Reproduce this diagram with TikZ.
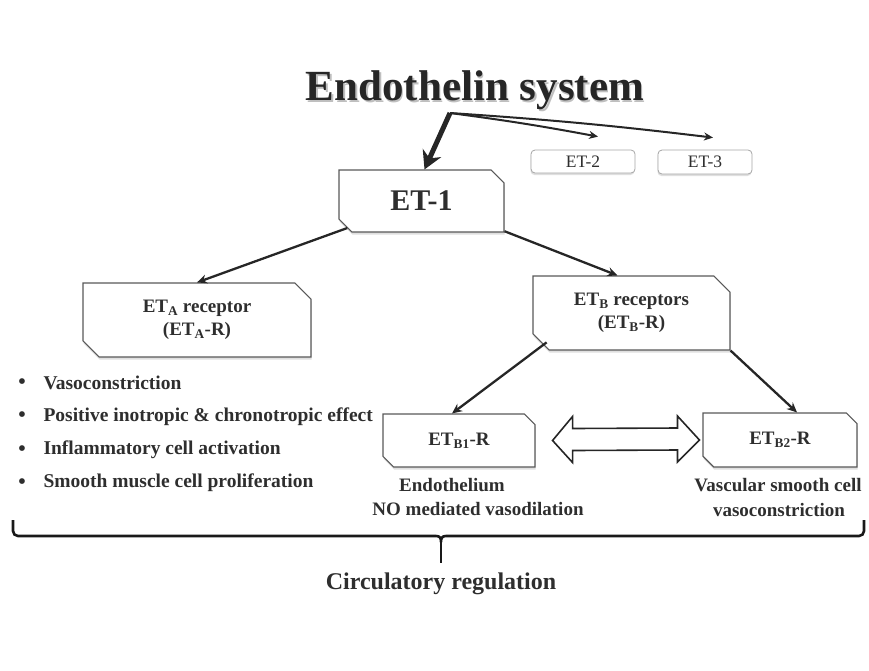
\documentclass[tikz,border=0pt]{standalone}
\usepackage{fontspec}
\setmainfont{Liberation Serif}
\usetikzlibrary{arrows.meta, shapes.misc, shadows, calc, positioning}
\newcommand{\fsz}[1]{\fontsize{#1}{1.2\dimexpr #1pt\relax}\selectfont}

\begin{document}
\begin{tikzpicture}[x=1pt, y=-1pt, >=Stealth, text=black!82]
  \tikzset{
    cutbox/.style={chamfered rectangle,
      chamfered rectangle corners={north east, south west},
      chamfered rectangle xsep=13pt,
      draw=black!65, line width=1.1pt, fill=white, inner sep=0pt,
      align=center, font=\bfseries\fsz{19},
      drop shadow={shadow xshift=0.5pt, shadow yshift=-2.5pt, fill=black!25}},
    tabbox/.style={draw=black!35, line width=0.8pt, fill=white,
      rounded corners=4pt, inner sep=0pt, font=\fsz{17.5},
      drop shadow={shadow xshift=-0.5pt, shadow yshift=-2pt, fill=black!25}},
    link/.style={->, line width=2.3pt, black!85,
      -{Stealth[length=10pt, width=9pt]}},
    effect/.style={anchor=west, font=\bfseries\fsz{19.5}},
  }
  \useasboundingbox (0,0) rectangle (869,670);

  % title with its soft shadow
  \node[font=\bfseries\fsz{43}, text=black!25] (titleshade) at (476.5,92) {Endothelin system};
  \node[font=\bfseries\fsz{43}, text=black!85] (title) at (475,90) {Endothelin system};
  \coordinate (src) at (450,113);

  % isoforms
  \node[cutbox, minimum width=165, minimum height=62, font=\bfseries\fsz{30}] (ET1) at (421.5,201) {ET-1};
  \node[tabbox, minimum width=104, minimum height=23] (ET2) at (583,161.5) {ET-2};
  \node[tabbox, minimum width=94, minimum height=24] (ET3) at (705,162) {ET-3};

  % receptors
  \node[cutbox, minimum width=228, minimum height=74] (ETA) at (197,320)
    {ET\textsubscript{A} receptor\\(ET\textsubscript{A}-R)};
  \node[cutbox, minimum width=197, minimum height=74] (ETB) at (631.5,313)
    {ET\textsubscript{B} receptors\\(ET\textsubscript{B}-R)};
  \node[cutbox, minimum width=152, minimum height=53] (ETB1) at (459,440.5)
    {ET\textsubscript{B1}-R};
  \node[cutbox, minimum width=154, minimum height=54] (ETB2) at (780,440)
    {ET\textsubscript{B2}-R};

  % arrows from the title
  \draw[-{Stealth[length=18pt, width=20pt]}, line width=5pt, black!85]
    (src) -- ([xshift=3pt]ET1.north);
  \draw[link, -{Stealth[length=9pt, width=8pt]}, line width=2pt]
    (src) to[bend left=1.5] ([xshift=15pt, yshift=13pt]ET2.north);
  \draw[link, -{Stealth[length=9pt, width=8pt]}, line width=2pt]
    (src) to[bend left=1.5] ([xshift=8pt, yshift=12pt]ET3.north);

  % cascade
  \draw[link] (ET1.200) -- (ETA.north);
  \draw[link] (ET1.-20) -- ([xshift=-14pt]ETB.north);
  \draw[link] ([xshift=6pt]ETB.south west) -- ([xshift=-7pt]ETB1.north);
  \draw[link] (ETB.south east) -- ([xshift=17pt]ETB2.north);

  % open double arrow between the ETB subtypes
  \coordinate (dl) at ([xshift=17pt]ETB1.east);
  \coordinate (dr) at ([xshift=-3pt]ETB2.west);
  \draw[line width=1.6pt, black!85, line join=miter, fill=white]
    (dl) -- ($(dl)+(20,-24)$) -- ($(dl)+(20,-12)$) -- ($(dr)+(-22,-12)$)
    -- ($(dr)+(-22,-24)$) -- (dr) -- ($(dr)+(-22,22)$) -- ($(dr)+(-22,10)$)
    -- ($(dl)+(20,10)$) -- ($(dl)+(20,22)$) -- cycle;

  % effects of the subtypes
  \node[font=\bfseries\fsz{19}] (endo) at (452,485) {Endothelium};
  \node[font=\bfseries\fsz{19}] (vasodil) at (478,509) {NO mediated vasodilation};
  \node[font=\bfseries\fsz{19}] (vsmc) at (778,485) {Vascular smooth cell};
  \node[font=\bfseries\fsz{19}] (vasocon) at (779,510) {vasoconstriction};

  % ETA effects
  \foreach \txt [count=\i] in {Vasoconstriction,
      Positive inotropic \& chronotropic effect,
      Inflammatory cell activation,
      Smooth muscle cell proliferation} {
    \node[font=\fsz{24}] (bul\i) at (22,384+33.3*\i-33.3) {\textbullet};
    \node[effect] (eff\i) at (40,383+33.3*\i-33.3) {\txt};
  }

  % brace
  \coordinate (bl) at (13,520);
  \coordinate (br) at (864,520);
  \coordinate (bm) at (441,542);
  \draw[line width=2.6pt, black!90, line join=round]
    (bl) -- ++(0,11) to[out=-90, in=180] ++(5,5) -- (436,536)
    .. controls (440,536) and (441,538) .. (bm)
    .. controls (441,538) and (442,536) .. (446,536)
    -- (859,536) to[out=0, in=-90] ++(5,-5) -- (br);
  \draw[line width=2.6pt, black!90] (bm) -- ++(0,21) coordinate (bt);
  \node[font=\bfseries\fsz{24}, below=6pt of bt] (circ) {Circulatory regulation};
\end{tikzpicture}
\end{document}
